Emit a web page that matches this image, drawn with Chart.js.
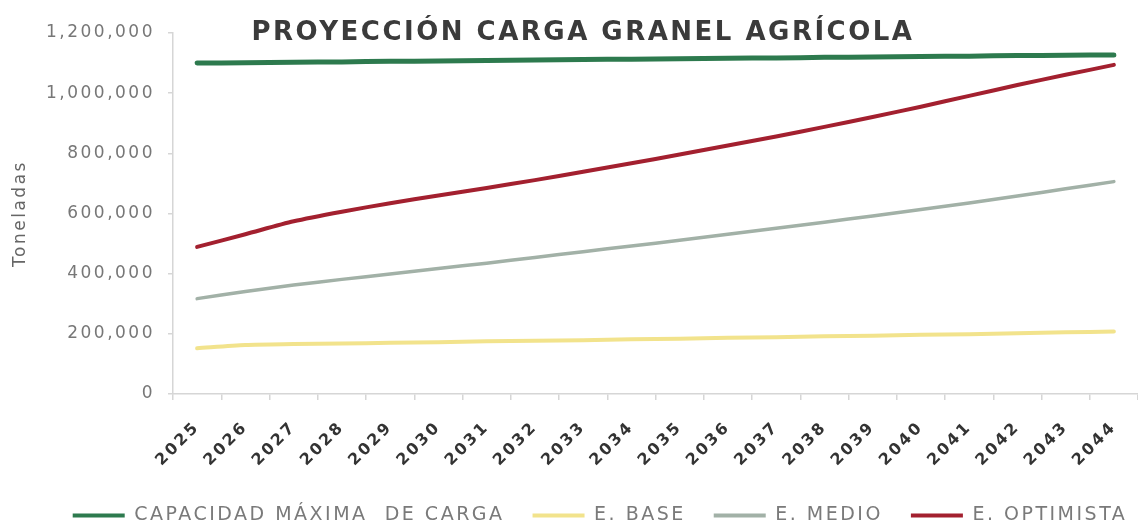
<!DOCTYPE html>
<html lang="es">
<head>
<meta charset="utf-8">
<title>Proyección carga granel agrícola</title>
<script src="https://cdn.jsdelivr.net/npm/chart.js@4.4.1/dist/chart.umd.min.js"></script>
<style>
  html, body { margin: 0; padding: 0; background: #fff; }
  #contenedor { position: relative; width: 1138px; height: 529px; }
</style>
</head>
<body>
<div id="contenedor"><canvas id="graficoGranel"></canvas></div>
<script>
// Datos
const anios = ['2025', '2026', '2027', '2028', '2029', '2030', '2031', '2032', '2033', '2034',
  '2035', '2036', '2037', '2038', '2039', '2040', '2041', '2042', '2043', '2044'];
const capacidadMaxima = [1100000, 1101000, 1103000, 1104000, 1106000, 1107000, 1109000, 1110000, 1112000, 1113000,
  1114000, 1116000, 1117000, 1119000, 1120000, 1122000, 1123000, 1125000, 1126000, 1127000];
const escenarioBase = [152000, 163000, 166000, 168000, 170000, 172000, 175000, 177000, 179000, 182000,
  184000, 187000, 189000, 192000, 194000, 197000, 199000, 202000, 205000, 208000];
const escenarioMedio = [317000, 341000, 362000, 381000, 399000, 417000, 435000, 454000, 473000, 492000,
  511000, 531000, 551000, 571000, 592000, 613000, 635000, 658000, 682000, 706000];
const escenarioOptimista = [489000, 531000, 574000, 606000, 634000, 660000, 685000, 711000, 739000, 767000,
  796000, 826000, 856000, 888000, 921000, 955000, 991000, 1027000, 1061000, 1094000];
const ticksY = [0, 200000, 400000, 600000, 800000, 1000000, 1200000];
const nombresSeries = ['CAPACIDAD MÁXIMA  DE CARGA', 'E. BASE', 'E. MEDIO', 'E. OPTIMISTA'];
const tituloGrafico = 'PROYECCIÓN CARGA GRANEL AGRÍCOLA';
const tituloEjeY = 'Toneladas';

document.addEventListener('DOMContentLoaded', () => {
    const fuente = 'DejaVu Sans';
    const gris = '#d6d6d6';

    // Espaciado de letras para imitar la tipografía ancha del original
    const espaciado = {
        id: 'espaciado',
        beforeUpdate(chart) { chart.ctx.letterSpacing = '2.5px'; },
        beforeDraw(chart) { chart.ctx.letterSpacing = '2.5px'; },
        afterLayout(chart) {
            // la leyenda del original está algo desplazada a la derecha y abajo
            const leyenda = chart.legend;
            leyenda.left += 31;
            leyenda.right += 31;
            leyenda.top += 6;
            leyenda.bottom += 6;
        }
    };

    // Título dibujado sobre el área del gráfico
    const titulo = {
        id: 'titulo',
        afterDraw(chart) {
            const ctx = chart.ctx;
            ctx.save();
            ctx.font = 'bold 26px "' + fuente + '"';
            ctx.letterSpacing = '2.5px';
            ctx.fillStyle = '#3b3b3b';
            ctx.textAlign = 'center';
            ctx.textBaseline = 'alphabetic';
            ctx.fillText(tituloGrafico, 583, 40);
            ctx.restore();
        }
    };

    const linea = (label, data, color, ancho) => ({
        label, data,
        borderColor: color,
        backgroundColor: color,
        borderWidth: ancho,
        pointRadius: 0,
        tension: 0.25,
        borderCapStyle: 'round',
        fill: false
    });

    const ctx = document.getElementById('graficoGranel').getContext('2d');
    new Chart(ctx, {
        type: 'line',
        data: {
            labels: anios,
            datasets: [
                linea(nombresSeries[0], capacidadMaxima, '#2d7a4e', 5),
                linea(nombresSeries[1], escenarioBase, '#f2e38c', 4),
                linea(nombresSeries[2], escenarioMedio, '#a2b1a7', 3.5),
                linea(nombresSeries[3], escenarioOptimista, '#a3202f', 4)
            ]
        },
        options: {
            responsive: true,
            maintainAspectRatio: false,
            animation: false,
            layout: { padding: { top: 33, left: 0, right: 0, bottom: 0 } },
            plugins: {
                title: { display: false },
                tooltip: { enabled: false },
                legend: {
                    position: 'bottom',
                    labels: {
                        boxWidth: 52,
                        boxHeight: 4,
                        padding: 28,
                        color: '#7a7a7a',
                        font: { family: fuente, size: 19 },
                        generateLabels(chart) {
                            return Chart.defaults.plugins.legend.labels.generateLabels(chart)
                                .map(item => ({ ...item, fillStyle: item.strokeStyle, lineWidth: 0 }));
                        }
                    }
                }
            },
            scales: {
                x: {
                    offset: true,
                    afterFit(scale) {
                        scale.height = 78;
                        scale.paddingRight = 0;
                    },
                    border: { color: gris, width: 1.5 },
                    grid: { offset: true, drawOnChartArea: false, tickLength: 6, color: gris, lineWidth: 1.5 },
                    ticks: {
                        autoSkip: false,
                        minRotation: 45,
                        maxRotation: 45,
                        padding: 18,
                        color: '#333',
                        font: { family: fuente, size: 16, weight: 'bold' }
                    }
                },
                y: {
                    min: 0,
                    max: 1200000,
                    afterBuildTicks(scale) { scale.ticks = ticksY.map(v => ({ value: v })); },
                    afterFit(scale) { scale.width = 173; },
                    border: { color: gris, width: 1.5 },
                    grid: { drawOnChartArea: false, tickLength: 5, color: gris, lineWidth: 1.5 },
                    ticks: {
                        padding: 13,
                        color: '#777',
                        font: { family: fuente, size: 17 },
                        callback: v => Number(v).toLocaleString('en-US')
                    },
                    title: {
                        display: true,
                        text: tituloEjeY,
                        color: '#666',
                        font: { family: fuente, size: 17 },
                        padding: { top: 10, bottom: 0 }
                    }
                }
            }
        },
        plugins: [espaciado, titulo]
    });
});
</script>
</body>
</html>
